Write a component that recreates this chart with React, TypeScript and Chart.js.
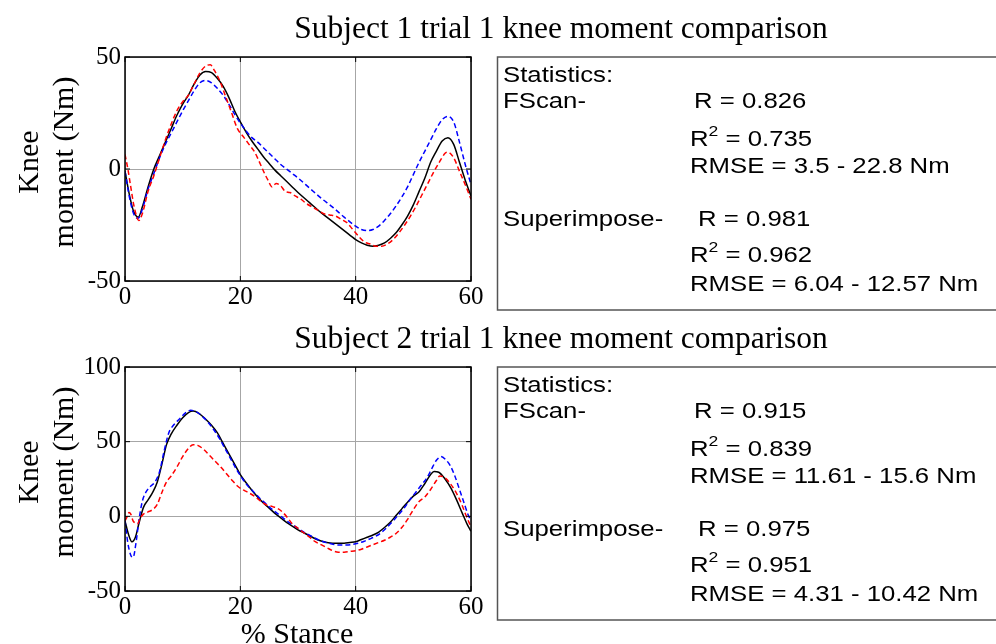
import React, { useEffect, useRef } from 'react';
import { Chart, registerables } from 'chart.js';
Chart.register(...registerables);

// ---------- DATA ----------
const X_TICKS = [0, 20, 40, 60];
const Y_TICKS_1 = [-50, 0, 50];
const Y_TICKS_2 = [-50, 0, 50, 100];

const TITLE_1 = 'Subject 1 trial 1 knee moment comparison';
const TITLE_2 = 'Subject 2 trial 1 knee moment comparison';
const Y_LABEL = ['Knee', 'moment (Nm)'];
const X_LABEL = '% Stance';

const STATS_1_FSCAN = ['0.826', '0.735', '3.5 - 22.8'];
const STATS_1_SUPER = ['0.981', '0.962', '6.04 - 12.57'];
const STATS_2_FSCAN = ['0.915', '0.839', '11.61 - 15.6'];
const STATS_2_SUPER = ['0.975', '0.951', '4.31 - 10.42'];

// Subject 1
const S1_BLACK_X = [0, 0.8, 1.5, 2.3, 3, 4, 5, 6, 7, 8, 9, 10, 11, 12, 13, 14, 15, 16, 17, 18, 19, 20, 21, 22, 23, 24, 25, 26, 27, 28, 29, 30, 32, 34, 36, 38, 40, 41, 42, 43, 44, 45, 46, 47, 48, 49, 50, 51, 52, 53, 54, 55, 56, 57, 58, 59, 60];
const S1_BLACK_Y = [-1, -12, -19, -21.5, -17, -8, 0, 6, 12, 18, 24, 29, 33, 38, 42, 43.5, 43, 40.5, 37, 32, 26, 21, 16.5, 12.5, 9, 5.5, 2.5, -0.5, -3, -5.5, -8, -10.5, -15, -19.5, -23.5, -27.5, -31.5, -33, -34, -34.5, -34, -33, -31, -28.5, -25, -21, -16, -10, -4, 3, 8, 12.5, 14, 11, 3, -5, -12];

const S1_BLUE_X = [0, 0.8, 1.5, 2.3, 3, 4, 5, 6, 7, 8, 9, 10, 11, 12, 13, 14, 15, 16, 17, 18, 19, 20, 21, 22, 23, 24, 25, 26, 27, 28, 29, 30, 32, 34, 36, 38, 40, 41, 42, 43, 44, 45, 46, 47, 48, 49, 50, 51, 52, 53, 54, 55, 56, 57, 58, 59, 60];
const S1_BLUE_Y = [-1, -13, -20, -22, -18, -9, -2, 5, 11, 16, 21, 26, 30.5, 35, 38.5, 39.5, 38.5, 36, 33, 29, 24.5, 20.5, 17, 14, 12, 9.5, 7, 4.5, 2, 0, -2, -4, -8.5, -13, -17, -21.5, -25.5, -27, -27.5, -27, -25.5, -23, -20, -16.5, -12.5, -8, -2.5, 3, 8, 13, 18, 22, 23.5, 21, 12, 2, -7];

const S1_RED_X = [0, 0.5, 1, 1.6, 2.4, 3, 4, 5, 6, 7, 8, 9, 10, 11, 12, 13, 14, 14.8, 15.5, 16.5, 17.5, 18.5, 19.5, 20.5, 21.5, 22.5, 23.5, 24.2, 24.8, 25.5, 26.2, 27, 27.8, 28.6, 29.5, 30.5, 31.5, 32.5, 33.5, 34.5, 35.5, 36.5, 37.5, 38.5, 39.5, 40.5, 41.5, 42.5, 43.5, 44.5, 45.5, 46.5, 47.5, 48.5, 49.5, 50.5, 51.5, 52.5, 53.5, 54.5, 55.5, 56, 57, 58, 59, 60];
const S1_RED_Y = [6.5, 0, -8, -17, -23, -20, -10, -3, 5, 13, 20, 26, 30, 33, 38, 43, 46, 46.5, 44, 39, 32, 25, 18, 14.5, 11, 7.5, 2, -2, -5, -8, -6.5, -7.5, -10, -10.5, -12, -13.5, -15.5, -17, -18.5, -20, -20.5, -21, -22.5, -24, -27, -30, -32.5, -33.5, -34.5, -34.5, -33.5, -31.5, -28.5, -25, -21, -16.5, -11.5, -6.5, -1.5, 3, 7, 7.5, 5, -1, -7, -13.5];

// Subject 2
const S2_BLACK_X = [0, 0.6, 1.2, 1.8, 2.4, 3.2, 4, 4.8, 5.6, 6.4, 7.2, 8, 9, 10, 11, 11.8, 12.8, 14, 15, 16, 17, 18, 19, 20, 21, 22, 23, 24, 25, 26, 27, 28, 29, 30, 31, 32, 33, 34, 35, 36, 37, 38, 39, 40, 41, 42, 43, 44, 45, 46, 47, 48, 49, 50, 51, 52, 53, 53.6, 54.4, 55.5, 56.5, 57.5, 58.5, 59.3, 60];
const S2_BLACK_Y = [-3, -12, -17, -14, -5, 6, 11, 16, 23, 35, 48, 55, 61, 66, 69.5, 70.5, 69, 65, 61, 56, 49, 42, 35, 28, 22.5, 17.5, 13, 9, 5.5, 2, -1, -4, -6.5, -9, -11, -13, -15, -16.5, -17.5, -18, -18, -18, -17.5, -17, -15.5, -14, -12.5, -10.5, -7.5, -4, 0.5, 5, 9.5, 13.5, 16.5, 22, 28, 30, 29.5, 25, 19, 11, 2, -5, -10];

const S2_BLUE_X = [0, 0.5, 1, 1.4, 1.9, 2.4, 3, 3.6, 4.4, 5.2, 6, 6.8, 7.6, 8.4, 9.4, 10.4, 11.4, 12.4, 13.4, 14.4, 15.4, 16.4, 17.4, 18.4, 19.4, 20.4, 21.4, 22.4, 23.4, 24.4, 25.4, 26.4, 27.4, 28.4, 29.4, 30.4, 31.4, 32.4, 33.4, 34.4, 35.4, 36.4, 37.4, 38.4, 39.4, 40.4, 41.4, 42.4, 43.4, 44.4, 45.4, 46.4, 47.4, 48.4, 49.4, 50.4, 51.4, 52.4, 53.2, 54, 54.8, 55.6, 56.4, 57.2, 58, 58.8, 59.5, 60];
const S2_BLUE_Y = [-3, -18, -26, -27.5, -18, -3, 10, 16, 20, 23, 30, 44, 56, 61, 65, 69, 71, 70, 67, 63, 58, 52, 45, 38, 31, 25, 20, 16, 12, 8.5, 5, 2, -1, -4, -6.5, -9, -11.5, -13.5, -15.5, -17, -18, -19, -19.2, -19.2, -18.8, -18, -16.8, -15.2, -13.5, -11, -7.5, -3.5, 1, 5.5, 11, 16, 21, 26, 32, 37.5, 40, 38, 34, 27, 18, 9, 1, -3];

const S2_RED_X = [0, 0.4, 0.7, 1, 1.4, 1.8, 2.2, 2.6, 3.2, 4, 4.8, 5.6, 6.4, 7.2, 8, 9, 10, 11, 11.8, 12.6, 13.6, 14.6, 15.6, 16.6, 17.6, 18.6, 19.6, 20.6, 21.6, 22.6, 23.6, 24.6, 25.6, 26.6, 27.4, 28.2, 29, 30, 31, 32, 33, 34, 35, 36, 37, 38, 39, 40, 41, 42, 43, 44, 45, 46, 47, 48, 49, 50, 51, 52, 53, 54, 54.6, 55.4, 56.4, 57.4, 58.4, 59.2, 60];
const S2_RED_Y = [-3, 0, 2.5, 1.5, -3, -4.5, -5, -1.5, 1.5, 3, 4.5, 8, 16, 23, 27, 33, 40, 45.5, 48, 47.5, 45, 41, 37, 33, 28.5, 24, 20, 17.5, 15.5, 13, 10, 7.5, 6.5, 5, 2.5, -1, -5, -8, -11, -14, -17, -19, -21, -23, -24, -24, -23.5, -23, -22, -20.5, -19, -17.5, -16, -14, -11.5, -7.5, -2, 4.5, 10, 13, 18, 24, 27, 26, 22, 16, 8, 0, -7];

// ---------- STYLE / LAYOUT ----------
const PLOT_L = 125;
const PLOT_R = 471;
const PLOT_T = 57;
const PLOT_B = 281;
const Y_AXIS_W = 60;
const X_AXIS_H = 30;
const CANVAS_W = 996;
const SERIF = '"Liberation Serif", "Times New Roman", serif';
const SANS = '"Liberation Sans", Arial, sans-serif';
const SX = 1.17;

function pts(xs: number[], ys: number[]) {
  return xs.map((x, i) => ({ x, y: ys[i] }));
}

function sText(ctx: CanvasRenderingContext2D, s: string, x: number, y: number) {
  ctx.save();
  ctx.translate(x, y);
  ctx.scale(SX, 1);
  ctx.fillText(s, 0, 0);
  ctx.restore();
  return ctx.measureText(s).width * SX;
}

function drawR2(ctx: CanvasRenderingContext2D, val: string, x: number, y: number) {
  ctx.font = '22px ' + SANS;
  const w = sText(ctx, 'R', x, y);
  ctx.font = '15px ' + SANS;
  const w2 = sText(ctx, '2', x + w, y - 10);
  ctx.font = '22px ' + SANS;
  sText(ctx, ' = ' + val, x + w + w2, y);
}

function makeDeco(title: string, fscan: string[], sup: string[], xLabel: boolean) {
  return {
    id: 'deco',
    afterDraw(chart: any) {
      const ctx: CanvasRenderingContext2D = chart.ctx;
      const { left, right, top, bottom } = chart.chartArea;
      const xs = chart.scales.x;
      const ys = chart.scales.y;
      ctx.save();
      // plot box
      ctx.strokeStyle = '#000';
      ctx.lineWidth = 1.5;
      ctx.strokeRect(left, top, right - left, bottom - top);
      // inward ticks
      ctx.lineWidth = 1;
      ctx.beginPath();
      xs.ticks.forEach((t: any) => {
        const px = xs.getPixelForValue(t.value);
        ctx.moveTo(px, bottom);
        ctx.lineTo(px, bottom - 5);
        ctx.moveTo(px, top);
        ctx.lineTo(px, top + 5);
      });
      ys.ticks.forEach((t: any) => {
        const py = ys.getPixelForValue(t.value);
        ctx.moveTo(left, py);
        ctx.lineTo(left + 5, py);
        ctx.moveTo(right, py);
        ctx.lineTo(right - 5, py);
      });
      ctx.stroke();

      // title
      ctx.fillStyle = '#000';
      ctx.font = '31.5px ' + SERIF;
      ctx.textAlign = 'center';
      ctx.textBaseline = 'alphabetic';
      ctx.fillText(title, 561, 38);

      // y label
      ctx.font = '30px ' + SERIF;
      const cy = 162;
      [38, 73].forEach((bx, i) => {
        ctx.save();
        ctx.translate(bx, cy);
        ctx.rotate(-Math.PI / 2);
        ctx.fillText(Y_LABEL[i], 0, 0);
        ctx.restore();
      });

      if (xLabel) {
        ctx.font = '30px ' + SERIF;
        ctx.fillText(X_LABEL, (left + right) / 2 - 1, 333);
      }

      // stats box
      ctx.strokeStyle = '#555';
      ctx.lineWidth = 1.5;
      ctx.strokeRect(497.5, 57, 520, 253);
      ctx.textAlign = 'left';
      ctx.fillStyle = '#000';
      ctx.font = '22px ' + SANS;
      sText(ctx, 'Statistics:', 503, 82);
      sText(ctx, 'FScan-', 503, 108);
      sText(ctx, 'R = ' + fscan[0], 694, 108);
      drawR2(ctx, fscan[1], 690, 146);
      sText(ctx, 'RMSE = ' + fscan[2] + ' Nm', 690, 173);
      sText(ctx, 'Superimpose-', 503, 226);
      sText(ctx, 'R = ' + sup[0], 698, 226);
      drawR2(ctx, sup[1], 690, 262);
      sText(ctx, 'RMSE = ' + sup[2] + ' Nm', 690, 291);
      ctx.restore();
    },
  };
}

function line(data: { x: number; y: number }[], color: string, dashed: boolean) {
  return {
    data,
    borderColor: color,
    backgroundColor: color,
    borderWidth: 1.5,
    borderDash: dashed ? [5, 3] : [],
    pointRadius: 0,
    cubicInterpolationMode: 'monotone' as const,
    fill: false,
  };
}

function buildConfig(
  height: number,
  yMin: number,
  yMax: number,
  yTicks: number[],
  black: { x: number; y: number }[],
  blue: { x: number; y: number }[],
  red: { x: number; y: number }[],
  deco: any
): any {
  const tickFont = { family: SERIF, size: 25 };
  return {
    type: 'line',
    data: {
      datasets: [line(red, '#ff0000', true), line(blue, '#0000ff', true), line(black, '#000000', false)],
    },
    options: {
      responsive: false,
      animation: false,
      events: [],
      layout: {
        padding: {
          left: PLOT_L - Y_AXIS_W,
          right: CANVAS_W - PLOT_R,
          top: PLOT_T,
          bottom: height - PLOT_B - X_AXIS_H,
        },
      },
      plugins: { legend: { display: false }, tooltip: { enabled: false }, title: { display: false } },
      scales: {
        x: {
          type: 'linear',
          min: 0,
          max: 60,
          afterBuildTicks: (s: any) => {
            s.ticks = X_TICKS.map((v) => ({ value: v }));
          },
          afterFit: (s: any) => {
            s.height = X_AXIS_H;
          },
          ticks: { font: tickFont, color: '#000', padding: 1, maxRotation: 0, autoSkip: false },
          grid: { color: '#a6a6a6', lineWidth: 1, drawTicks: false },
          border: { display: false },
        },
        y: {
          type: 'linear',
          min: yMin,
          max: yMax,
          afterBuildTicks: (s: any) => {
            s.ticks = yTicks.map((v) => ({ value: v }));
          },
          afterFit: (s: any) => {
            s.width = Y_AXIS_W;
          },
          ticks: { font: tickFont, color: '#000', padding: 4, autoSkip: false },
          grid: { color: '#a6a6a6', lineWidth: 1, drawTicks: false },
          border: { display: false },
        },
      },
    },
    plugins: [deco],
  };
}

function Panel(props: { top: number; height: number; cfg: any }) {
  const ref = useRef<HTMLCanvasElement>(null);
  useEffect(() => {
    if (!ref.current) return;
    const chart = new Chart(ref.current, props.cfg);
    return () => chart.destroy();
  }, []);
  return (
    <canvas
      ref={ref}
      width={CANVAS_W}
      height={props.height}
      style={{ position: 'absolute', left: 0, top: props.top, width: CANVAS_W, height: props.height, display: 'block' }}
    />
  );
}

export default function App() {
  const cfg1 = buildConfig(
    322, -50, 50, Y_TICKS_1,
    pts(S1_BLACK_X, S1_BLACK_Y), pts(S1_BLUE_X, S1_BLUE_Y), pts(S1_RED_X, S1_RED_Y),
    makeDeco(TITLE_1, STATS_1_FSCAN, STATS_1_SUPER, false)
  );
  const cfg2 = buildConfig(
    334, -50, 100, Y_TICKS_2,
    pts(S2_BLACK_X, S2_BLACK_Y), pts(S2_BLUE_X, S2_BLUE_Y), pts(S2_RED_X, S2_RED_Y),
    makeDeco(TITLE_2, STATS_2_FSCAN, STATS_2_SUPER, true)
  );
  return (
    <div style={{ position: 'absolute', left: 0, top: 0, width: 996, height: 644, background: '#fff', overflow: 'hidden' }}>
      <Panel top={0} height={322} cfg={cfg1} />
      <Panel top={310} height={334} cfg={cfg2} />
    </div>
  );
}
